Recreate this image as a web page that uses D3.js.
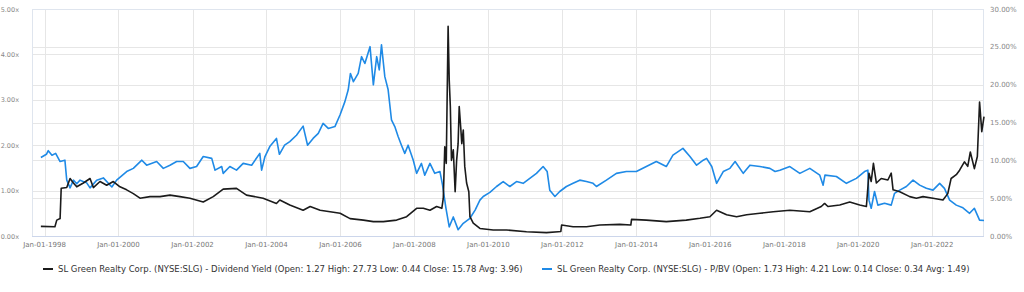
<!DOCTYPE html>
<html>
<head>
<meta charset="utf-8">
<script src="https://cdn.jsdelivr.net/npm/d3@7"></script>
<style>
  body { margin: 0; background: #fff; }
  svg { display: block; font-family: "DejaVu Sans", sans-serif; }
</style>
</head>
<body>
<div id="chart"></div>
<script>
// dates are decimal years
var yieldDates = [1997.9, 1998.28, 1998.33, 1998.42, 1998.45, 1998.6, 1998.69, 1998.78, 1998.87, 1999.05,
  1999.23, 1999.32, 1999.5, 1999.68, 1999.86, 2000.04, 2000.22, 2000.4, 2000.58, 2000.85,
  2001.12, 2001.39, 2001.66, 2001.93, 2002.29, 2002.56, 2002.83, 2003.19, 2003.46, 2003.91,
  2004.27, 2004.36, 2004.63, 2004.99, 2005.18, 2005.45, 2005.72, 2005.99, 2006.26, 2006.62,
  2006.89, 2007.16, 2007.52, 2007.79, 2008.06, 2008.24, 2008.42, 2008.6, 2008.74, 2008.78,
  2008.82, 2008.86, 2008.91, 2008.94, 2008.97, 2009.0, 2009.05, 2009.1, 2009.14, 2009.18,
  2009.21, 2009.25, 2009.28, 2009.32, 2009.36, 2009.41, 2009.47, 2009.5, 2009.59, 2009.77,
  2010.13, 2010.49, 2011.03, 2011.57, 2011.89, 2011.96, 2011.98, 2012.29, 2012.65, 2013.01,
  2013.55, 2013.85, 2013.87, 2014.27, 2014.81, 2015.35, 2015.72, 2015.99, 2016.17, 2016.44,
  2016.71, 2016.98, 2017.34, 2017.7, 2018.15, 2018.69, 2019.0, 2019.09, 2019.18, 2019.5,
  2019.77, 2020.04, 2020.22, 2020.29, 2020.35, 2020.41, 2020.49, 2020.62, 2020.8, 2020.89,
  2020.94, 2021.12, 2021.39, 2021.57, 2021.75, 2022.02, 2022.29, 2022.42, 2022.51, 2022.65,
  2022.74, 2022.87, 2022.96, 2023.03, 2023.14, 2023.22, 2023.28, 2023.34, 2023.4];
var yieldValues = [1.27, 1.23, 2.1, 2.3, 6.3, 6.4, 7.6, 7.0, 6.5, 7.0,
  7.6, 6.4, 7.2, 6.7, 7.2, 6.5, 6.1, 5.6, 5.0, 5.2,
  5.2, 5.4, 5.2, 5.0, 4.5, 5.2, 6.2, 6.3, 5.4, 5.0,
  4.3, 4.75, 4.1, 3.4, 3.9, 3.4, 3.2, 3.0, 2.3, 2.1,
  1.9, 1.9, 2.1, 2.55, 3.66, 3.66, 3.4, 3.9, 3.66, 5.0,
  11.8, 9.6, 27.73, 20.6, 17.1, 10.0, 11.4, 5.85, 10.0, 12.2,
  17.1, 14.4, 12.2, 14.0, 9.2, 7.0, 5.85, 2.55, 1.7, 1.0,
  0.8, 0.79, 0.57, 0.44, 0.57, 0.6, 1.45, 1.23, 1.23, 1.45,
  1.54, 1.45, 2.2, 2.1, 1.9, 2.1, 2.34, 2.55, 3.4, 2.8,
  2.55, 2.8, 3.0, 3.2, 3.4, 3.2, 3.9, 4.3, 3.9, 4.1,
  4.5, 4.1, 3.9, 8.3, 7.2, 9.6, 7.0, 7.6, 7.4, 8.3,
  6.1, 5.85, 5.2, 5.0, 5.2, 5.0, 4.75, 5.6, 7.6, 8.1,
  8.7, 9.8, 9.2, 11.1, 8.9, 10.5, 17.7, 13.8, 15.78];

var pbvDates = [1997.9, 1998.05, 1998.1, 1998.2, 1998.3, 1998.42, 1998.55, 1998.6, 1998.69, 1998.78,
  1998.87, 1998.96, 1999.14, 1999.23, 1999.41, 1999.59, 1999.82, 1999.95, 2000.22, 2000.4,
  2000.63, 2000.76, 2001.03, 2001.21, 2001.39, 2001.57, 2001.75, 2001.93, 2002.11, 2002.29,
  2002.52, 2002.61, 2002.79, 2002.83, 2003.01, 2003.19, 2003.37, 2003.6, 2003.82, 2003.87,
  2003.96, 2004.09, 2004.27, 2004.35, 2004.49, 2004.63, 2004.81, 2004.99, 2005.11, 2005.26,
  2005.4, 2005.53, 2005.67, 2005.85, 2005.99, 2006.12, 2006.21, 2006.27, 2006.35, 2006.48,
  2006.57, 2006.66, 2006.8, 2006.89, 2006.98, 2007.05, 2007.11, 2007.2, 2007.29, 2007.38,
  2007.47, 2007.56, 2007.65, 2007.74, 2007.83, 2007.97, 2008.06, 2008.19, 2008.28, 2008.42,
  2008.55, 2008.69, 2008.76, 2008.85, 2008.94, 2009.05, 2009.18, 2009.32, 2009.5, 2009.64,
  2009.77, 2009.86, 2010.04, 2010.22, 2010.4, 2010.58, 2010.76, 2010.94, 2011.12, 2011.3,
  2011.48, 2011.59, 2011.66, 2011.8, 2011.93, 2012.11, 2012.29, 2012.47, 2012.65, 2012.83,
  2012.92, 2013.19, 2013.46, 2013.73, 2014.0, 2014.27, 2014.54, 2014.81, 2014.99, 2015.26,
  2015.45, 2015.63, 2015.81, 2015.9, 2016.04, 2016.17, 2016.35, 2016.53, 2016.67, 2016.89,
  2017.07, 2017.34, 2017.61, 2017.75, 2017.88, 2018.15, 2018.42, 2018.69, 2018.96, 2019.05,
  2019.1, 2019.41, 2019.68, 2019.95, 2020.17, 2020.26, 2020.29, 2020.35, 2020.44, 2020.53,
  2020.71, 2020.89, 2020.98, 2021.12, 2021.3, 2021.48, 2021.66, 2021.84, 2022.02, 2022.2,
  2022.33, 2022.47, 2022.65, 2022.83, 2023.01, 2023.14, 2023.28, 2023.4];
var pbvValues = [1.73, 1.80, 1.88, 1.78, 1.82, 1.64, 1.67, 1.23, 1.06, 1.23,
  1.15, 1.23, 1.17, 1.06, 1.23, 1.28, 1.08, 1.23, 1.42, 1.49,
  1.67, 1.56, 1.64, 1.49, 1.56, 1.64, 1.64, 1.49, 1.53, 1.75,
  1.71, 1.45, 1.53, 1.38, 1.53, 1.45, 1.60, 1.56, 1.82, 1.45,
  1.75, 1.97, 2.15, 1.80, 2.0, 2.08, 2.22, 2.42, 2.0, 2.15,
  2.26, 2.48, 2.37, 2.41, 2.67, 2.96, 3.22, 3.58, 3.40, 3.58,
  3.95, 3.80, 4.17, 3.33, 3.95, 3.66, 4.21, 3.51, 3.22, 2.56,
  2.41, 2.19, 2.0, 1.82, 2.0, 1.67, 1.38, 1.60, 1.34, 1.60,
  1.38, 1.42, 1.12, 0.62, 0.20, 0.42, 0.14, 0.28, 0.39, 0.57,
  0.79, 0.87, 0.96, 1.09, 1.20, 1.09, 1.20, 1.16, 1.27, 1.38,
  1.53, 1.42, 1.01, 0.87, 0.98, 1.09, 1.16, 1.23, 1.20, 1.16,
  1.09, 1.23, 1.38, 1.42, 1.42, 1.53, 1.64, 1.53, 1.78, 1.93,
  1.75, 1.56, 1.67, 1.71, 1.53, 1.16, 1.42, 1.49, 1.64, 1.38,
  1.56, 1.53, 1.49, 1.42, 1.45, 1.53, 1.38, 1.49, 1.34, 1.12,
  1.34, 1.31, 1.16, 1.27, 1.42, 1.45, 0.79, 0.61, 0.98, 0.68,
  0.72, 0.68, 0.94, 1.01, 1.09, 1.23, 1.12, 1.05, 1.01, 1.16,
  1.05, 0.79, 0.68, 0.62, 0.50, 0.61, 0.35, 0.34];

var tickYears = [1998, 2000, 2002, 2004, 2006, 2008, 2010, 2012, 2014, 2016, 2018, 2020, 2022];
var leftTicks = [0, 1, 2, 3, 4, 5];
var rightTicks = [0, 5, 10, 15, 20, 25, 30];
var legendLabels = [
  "SL Green Realty Corp. (NYSE:SLG) - Dividend Yield (Open: 1.27 High: 27.73 Low: 0.44 Close: 15.78 Avg: 3.96)",
  "SL Green Realty Corp. (NYSE:SLG) - P/BV (Open: 1.73 High: 4.21 Low: 0.14 Close: 0.34 Avg: 1.49)"
];

function toDate(y) {
  var yr = Math.floor(y);
  var start = new Date(yr, 0, 1), end = new Date(yr + 1, 0, 1);
  return new Date(start.getTime() + (y - yr) * (end - start));
}

function drawChart() {
  var width = 1024, height = 292;
  var left = 32, right = 984, plotTop = 9, bottom = 236;

  var svg = d3.select("#chart").append("svg")
    .attr("width", width).attr("height", height);

  var x = d3.scaleTime().domain([toDate(1997.66), toDate(2023.40)]).range([left, right]);
  var yL = d3.scaleLinear().domain([0, 5]).range([bottom, plotTop]);
  var yR = d3.scaleLinear().domain([0, 30]).range([bottom, plotTop]);

  var grid = svg.append("g");
  grid.selectAll("line.v").data(tickYears).enter().append("line")
    .attr("x1", function (d) { return Math.round(x(new Date(d, 0, 1))) + 0.5; })
    .attr("x2", function (d) { return Math.round(x(new Date(d, 0, 1))) + 0.5; })
    .attr("y1", plotTop).attr("y2", bottom)
    .attr("stroke", "#e6e6e6");
  grid.selectAll("line.l").data(leftTicks).enter().append("line")
    .attr("x1", left).attr("x2", right)
    .attr("y1", function (d) { return Math.round(yL(d)) + 0.5; })
    .attr("y2", function (d) { return Math.round(yL(d)) + 0.5; })
    .attr("stroke", "#e6e6e6");
  grid.selectAll("line.r").data(rightTicks).enter().append("line")
    .attr("x1", left).attr("x2", right)
    .attr("y1", function (d) { return Math.round(yR(d)) + 0.5; })
    .attr("y2", function (d) { return Math.round(yR(d)) + 0.5; })
    .attr("stroke", "#e6e6e6");

  svg.append("rect")
    .attr("x", left + 0.5).attr("y", plotTop + 0.5)
    .attr("width", right - left - 1).attr("height", bottom - plotTop)
    .attr("fill", "none").attr("stroke", "#dfe5ee");
  svg.append("line")
    .attr("x1", left).attr("x2", right)
    .attr("y1", bottom + 0.5).attr("y2", bottom + 0.5)
    .attr("stroke", "#ccd6eb");

  // x axis labels
  svg.append("g").selectAll("text").data(tickYears).enter().append("text")
    .attr("x", function (d) { return x(new Date(d, 0, 1)); })
    .attr("y", 247)
    .attr("text-anchor", "middle")
    .attr("font-size", 7)
    .attr("fill", "#777")
    .text(function (d) { return "Jan-01-" + d; });

  svg.append("g").selectAll("text").data(leftTicks).enter().append("text")
    .attr("x", 19).attr("y", function (d) { return yL(d) + 2.5; })
    .attr("text-anchor", "end")
    .attr("font-size", 6.5)
    .attr("fill", "#888")
    .text(function (d) { return d3.format(".2f")(d) + "x"; });

  svg.append("g").selectAll("text").data(rightTicks).enter().append("text")
    .attr("x", 990).attr("y", function (d) { return yR(d) + 2.5; })
    .attr("text-anchor", "start")
    .attr("font-size", 7)
    .attr("fill", "#888")
    .text(function (d) { return d3.format(".2f")(d) + "%"; });

  var pbv = pbvDates.map(function (d, i) { return [toDate(d), pbvValues[i]]; });
  var yld = yieldDates.map(function (d, i) { return [toDate(d), yieldValues[i]]; });

  svg.append("path").datum(pbv)
    .attr("fill", "none").attr("stroke", "#1f8ae6").attr("stroke-width", 1.6)
    .attr("stroke-linejoin", "round")
    .attr("d", d3.line().x(function (d) { return x(d[0]); }).y(function (d) { return yL(d[1]); }));

  svg.append("path").datum(yld)
    .attr("fill", "none").attr("stroke", "#1b1b1b").attr("stroke-width", 1.6)
    .attr("stroke-linejoin", "round")
    .attr("d", d3.line().x(function (d) { return x(d[0]); }).y(function (d) { return yR(d[1]); }));

  // legend
  var legendItems = [
    { x: 43, color: "#1b1b1b", label: legendLabels[0] },
    { x: 542, color: "#1f8ae6", label: legendLabels[1] }
  ];
  var lg = svg.append("g").selectAll("g").data(legendItems).enter().append("g")
    .attr("transform", function (d) { return "translate(" + d.x + ",269)"; });
  lg.append("line").attr("x1", 0).attr("x2", 10).attr("y1", 0).attr("y2", 0)
    .attr("stroke", function (d) { return d.color; }).attr("stroke-width", 2);
  lg.append("text").attr("x", 15).attr("y", 3)
    .attr("font-size", 8.5).attr("fill", "#333")
    .text(function (d) { return d.label; });
}

drawChart();
</script>
</body>
</html>
